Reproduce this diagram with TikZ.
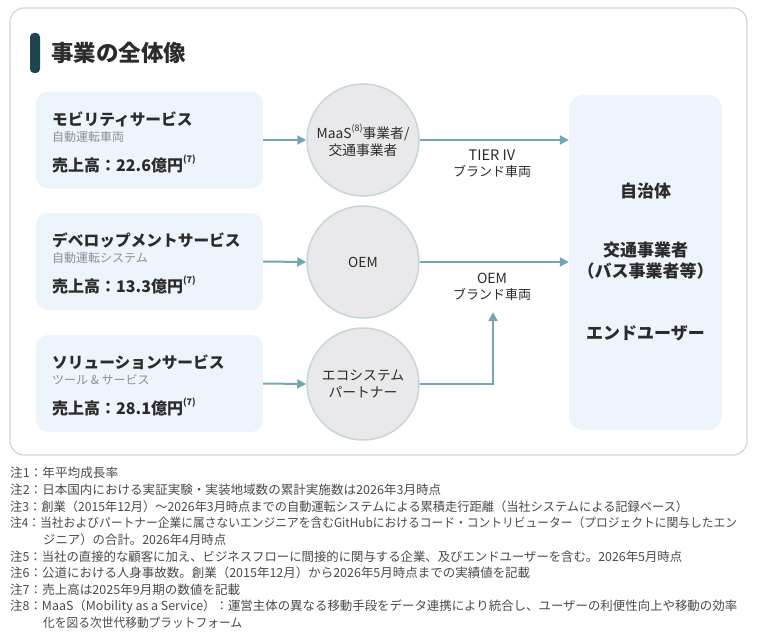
\documentclass[tikz,border=0pt]{standalone}
\usepackage{fontspec}
\setmainfont{Noto Sans CJK JP}
\usetikzlibrary{arrows.meta}
\definecolor{boxfill}{HTML}{EEF4FB}
\definecolor{circfill}{HTML}{E9E9EB}
\definecolor{circline}{HTML}{C6D6D9}
\definecolor{arrowc}{HTML}{74A7B1}
\definecolor{textdark}{HTML}{2B2B2B}
\definecolor{subgray}{HTML}{8A9099}
\definecolor{notegray}{HTML}{4A4A4A}
\definecolor{framec}{HTML}{D4D4D4}
\definecolor{barc}{HTML}{1E454F}
\newcommand\fnmark[1]{\raisebox{0.55em}{\fontsize{9}{9}\selectfont(#1)}}
\newcommand\notefit[2]{\resizebox{#1pt}{\height}{#2}}
\begin{document}
\begin{tikzpicture}[x=1pt,y=-1pt,
  svcbox/.style={fill=boxfill, rounded corners=12pt, minimum width=227pt, minimum height=97pt, inner sep=0pt},
  endbox/.style={fill=boxfill, rounded corners=14pt, minimum width=153pt, minimum height=335pt, inner sep=0pt},
  partner/.style={circle, fill=circfill, draw=circline, line width=1.5pt, minimum size=112pt, inner sep=0pt, align=center, font=\fontsize{13.8}{16.5}\selectfont, text=textdark},
  flow/.style={draw=arrowc, line width=2pt, -{Triangle[length=9pt,width=9pt]}},
  svctitle/.style={anchor=west, font=\bfseries\fontsize{15.7}{18}\selectfont, text=textdark, inner sep=0pt},
  svcsub/.style={anchor=west, font=\fontsize{12}{13}\selectfont, text=subgray, inner sep=0pt},
  svcsales/.style={anchor=west, font=\bfseries\fontsize{16}{18}\selectfont, text=textdark, inner sep=0pt},
  endlabel/.style={align=center, font=\bfseries\fontsize{17}{21}\selectfont, text=textdark, inner sep=0pt},
  flowlabel/.style={align=center, font=\fontsize{13}{16}\selectfont, text=textdark, inner sep=0pt},
  note/.style={anchor=west, font=\fontsize{12.5}{14}\selectfont, text=notegray, inner sep=0pt}
]
\useasboundingbox (0,0) rectangle (760,634);
% frame
\draw[framec, line width=1.2pt, rounded corners=14pt] (10,8) rectangle (747,455);
% title
\fill[barc, rounded corners=4pt] (30,33) rectangle (40,73);
\node[anchor=west, inner sep=0pt, font=\bfseries\fontsize{22.5}{26}\selectfont, text=textdark] (title) at (51,53) {事業の全体像};

% service boxes
\node[svcbox] (b1) at (149.5,140) {};
\node[svcbox] (b2) at (149.5,261.5) {};
\node[svcbox] (b3) at (149.5,383.5) {};

\node[svctitle] (t1) at (52,119) {モビリティサービス};
\node[svcsub] (s1) at (52,137) {自動運転車両};
\node[svcsales] (v1) at (52,164) {売上高：22.6億円\fnmark{7}};

\node[svctitle] (t2) at (52,240) {デベロップメントサービス};
\node[svcsub] (s2) at (52,258) {自動運転システム};
\node[svcsales] (v2) at (52,285) {売上高：13.3億円\fnmark{7}};

\node[svctitle] (t3) at (52,362) {ソリューションサービス};
\node[svcsub] (s3) at (52,380) {ツール \& サービス};
\node[svcsales] (v3) at (52,407) {売上高：28.1億円\fnmark{7}};

% partner circles
\node[partner] (c1) at (363,140) {MaaS\fnmark{8}事業者/\\交通事業者};
\node[partner] (c2) at (363,262) {OEM};
\node[partner] (c3) at (363,384) {エコシステム\\パートナー};

% end customers box
\node[endbox] (rb) at (645.5,262.5) {};
\node[endlabel] (e1) at (645.5,191) {自治体};
\node[endlabel] (e2) at (645.5,260.5) {交通事業者\\（バス事業者等）};
\node[endlabel] (e3) at (645.5,333) {エンドユーザー};

% arrow labels
\node[flowlabel] (l1) at (492,164) {{\fontsize{14.5}{16}\selectfont TIER IV}\\ブランド車両};
\node[flowlabel] (l2) at (492,286.5) {{\fontsize{14}{16}\selectfont OEM}\\ブランド車両};
\coordinate (up) at (493,312);

% connectors
\draw[flow] (b1.east) -- (c1.west);
\draw[flow] (b2.east) -- (c2.west);
\draw[flow] (b3.east) -- (c3.west);
\draw[flow] (c1.east) -- (c1.east -| rb.west);
\draw[flow] (c2.east) -- (c2.east -| rb.west);
\draw[flow] (c3.east) -| (up);

% notes
\node[note] (n1) at (10,473) {\notefit{108}{注1：年平均成長率}};
\node[note] (n2) at (10,490) {\notefit{431}{注2：日本国内における実証実験・実装地域数の累計実施数は2026年3月時点}};
\node[note] (n3) at (10,506.5) {\notefit{678}{注3：創業（2015年12月）～2026年3月時点までの自動運転システムによる累積走行距離（当社システムによる記録ベース）}};
\node[note] (n4) at (10,523) {\notefit{727}{注4：当社およびパートナー企業に属さないエンジニアを含むGitHubにおけるコード・コントリビューター（プロジェクトに関与したエン}};
\node[note] (n4b) at (43,540) {\notefit{183}{ジニア）の合計。2026年4月時点}};
\node[note] (n5) at (10,556.5) {\notefit{672}{注5：当社の直接的な顧客に加え、ビジネスフローに間接的に関与する企業、及びエンドユーザーを含む。2026年5月時点}};
\node[note] (n6) at (10,573) {\notefit{520}{注6：公道における人身事故数。創業（2015年12月）から2026年5月時点までの実績値を記載}};
\node[note] (n7) at (10,590) {\notefit{230}{注7：売上高は2025年9月期の数値を記載}};
\node[note] (n8) at (10,606.5) {\notefit{727}{注8：MaaS（Mobility as a Service）：運営主体の異なる移動手段をデータ連携により統合し、ユーザーの利便性向上や移動の効率}};
\node[note] (n8b) at (43,623) {\notefit{199}{化を図る次世代移動プラットフォーム}};
\end{tikzpicture}
\end{document}
